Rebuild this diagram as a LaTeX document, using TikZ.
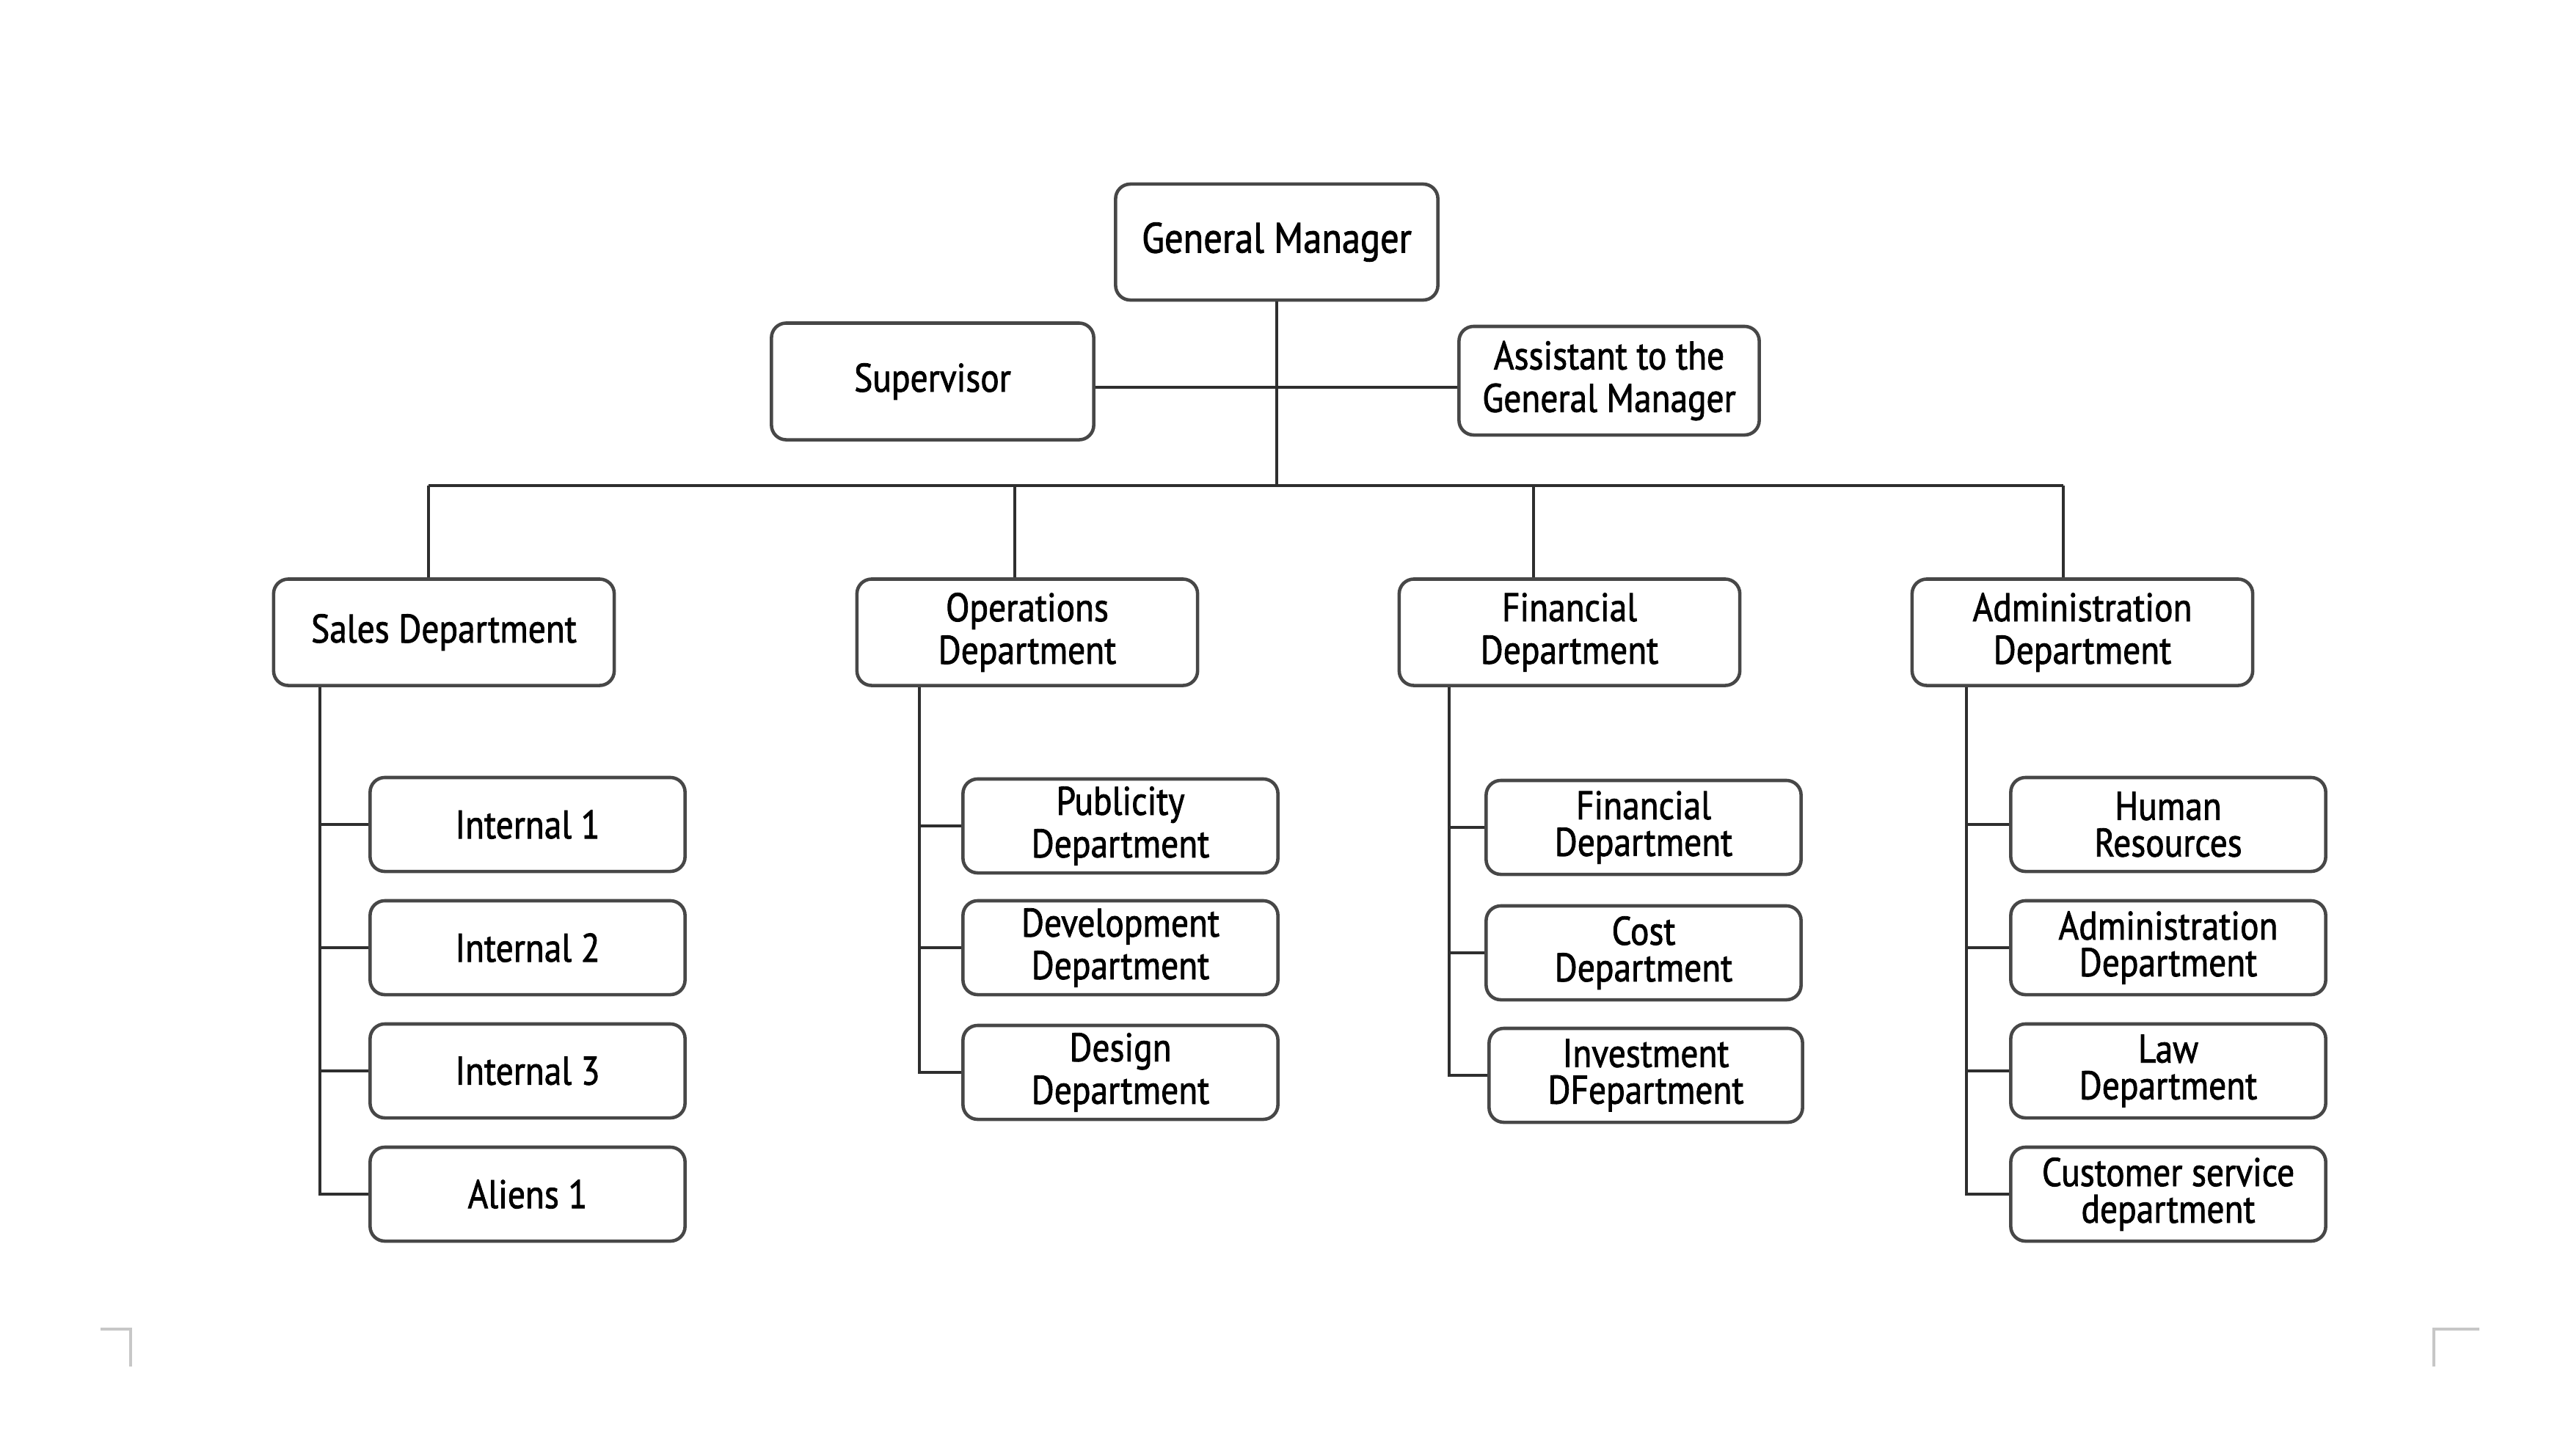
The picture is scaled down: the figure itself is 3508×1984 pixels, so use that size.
\documentclass[tikz,border=0pt]{standalone}
\usepackage{fontspec}
\setmainfont{PT Sans}[FakeStretch=0.87,FakeBold=1.5]
\begin{document}
\begin{tikzpicture}[x=0.01cm,y=-0.01cm,
  box/.style={draw=black!72, line width=1.3pt, rounded corners=0.2cm, fill=white,
    align=center, inner sep=0pt, font=\fontsize{15.5}{16.5}\selectfont},
  topbox/.style={box, minimum height=1.45cm, minimum width=4.64cm},
  kid/.style={box, minimum height=1.28cm, minimum width=4.29cm},
  tight/.style={font=\fontsize{15.5}{14.2}\selectfont},
  conn/.style={draw=black!82, line width=1.2pt},
  crop/.style={draw=black!22, line width=0.9pt}]
\useasboundingbox (0,0) rectangle (3508,1984);

% top
\node[box, minimum width=4.39cm, minimum height=1.58cm, font=\fontsize{16.5}{17}\selectfont] (gm) at (1740,330) {General Manager};
\node[box, minimum width=4.39cm, minimum height=1.59cm] (sup) at (1271,520) {Supervisor};
\node[box, minimum width=4.09cm, minimum height=1.48cm] (asst) at (2193,519) {Assistant to the\\General Manager};

% level 2
\node[topbox] (sales) at (605,862) {Sales Department};
\node[topbox] (ops) at (1400,862) {Operations\\Department};
\node[topbox] (fin) at (2139,862) {Financial\\Department};
\node[topbox] (adm) at (2838,862) {Administration\\Department};

% sales children
\node[kid] (s1) at (719,1124) {Internal 1};
\node[kid] (s2) at (719,1292) {Internal 2};
\node[kid] (s3) at (719,1460) {Internal 3};
\node[kid] (s4) at (719,1628) {Aliens 1};

% operations children
\node[kid] (o1) at (1527,1126) {Publicity\\Department};
\node[kid] (o2) at (1527,1292) {Development\\Department};
\node[kid] (o3) at (1527,1462) {Design\\Department};

% financial children
\node[kid, tight] (f1) at (2240,1128) {Financial\\Department};
\node[kid, tight] (f2) at (2240,1299) {Cost\\Department};
\node[kid, tight, minimum width=4.27cm] (f3) at (2243,1466) {Investment\\DFepartment};

% administration children
\node[kid, tight] (a1) at (2955,1124) {Human\\Resources};
\node[kid, tight] (a2) at (2955,1292) {Administration\\Department};
\node[kid, tight] (a3) at (2955,1460) {Law\\Department};
\node[kid, tight] (a4) at (2955,1628) {Customer service\\department};

% coordinates for the bus
\coordinate (bus) at (1740,662);
\coordinate (bl) at (584,662);
\coordinate (br) at (2812,662);
\coordinate (od) at (1383,662);
\coordinate (fd) at (2090,662);
\coordinate (hl) at (0,528);

% connectors top
\draw[conn] (sup.east |- hl) -- (asst.west |- hl);
\draw[conn] (gm.south) -- (bus);
\draw[conn] (bl) -- (br);
\draw[conn] (bl) -- (bl |- sales.north);
\draw[conn] (od) -- (od |- ops.north);
\draw[conn] (fd) -- (fd |- fin.north);
\draw[conn] (br) -- (br |- adm.north);

% spines
\coordinate (sx) at (436,0);
\coordinate (ox) at (1253,0);
\coordinate (fx) at (1975,0);
\coordinate (ax) at (2680,0);

\draw[conn] (sales.south -| sx) -- (s4.west -| sx) -- (s4.west);
\foreach \n in {s1,s2,s3} \draw[conn] (\n.west -| sx) -- (\n.west);
\draw[conn] (ops.south -| ox) -- (o3.west -| ox) -- (o3.west);
\foreach \n in {o1,o2} \draw[conn] (\n.west -| ox) -- (\n.west);
\draw[conn] (fin.south -| fx) -- (f3.west -| fx) -- (f3.west);
\foreach \n in {f1,f2} \draw[conn] (\n.west -| fx) -- (\n.west);
\draw[conn] (adm.south -| ax) -- (a4.west -| ax) -- (a4.west);
\foreach \n in {a1,a2,a3} \draw[conn] (\n.west -| ax) -- (\n.west);

% crop marks
\draw[crop] (137,1812) -- (178,1812) -- (178,1863);
\draw[crop] (3379,1812) -- (3317,1812) -- (3317,1863);
\end{tikzpicture}
\end{document}
